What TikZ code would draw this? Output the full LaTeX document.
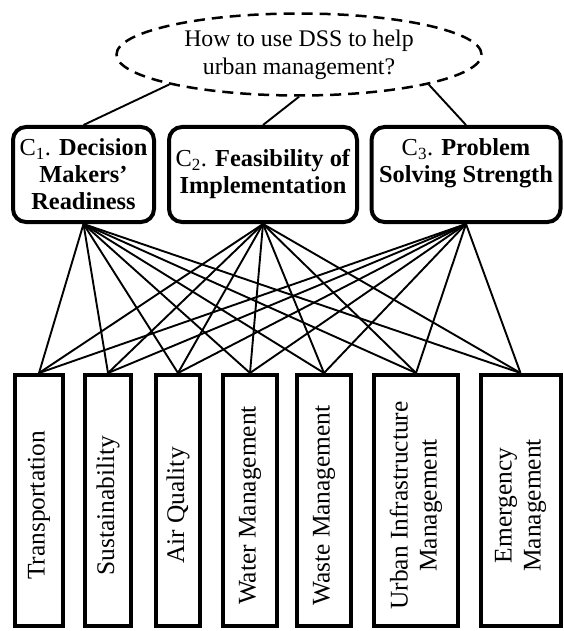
\documentclass[tikz,border=0pt]{standalone}
\usepackage{fontspec}
\setmainfont{Liberation Serif}
\usetikzlibrary{shapes.geometric}
\begin{document}
\begin{tikzpicture}[x=1pt,y=-1pt,
  question/.style={ellipse, draw, dash pattern=on 11pt off 7pt, line width=2.5pt,
    minimum width=365pt, minimum height=82pt, inner sep=0pt, align=center,
    font=\fontsize{23.8}{28}\selectfont},
  topbox/.style={draw, line width=4pt, rounded corners=13pt, inner sep=0pt,
    minimum height=95pt, align=center, font=\fontsize{24.4}{27}\selectfont},
  botbox/.style={draw, line width=4pt, inner sep=0pt, minimum height=251pt},
  bottext/.style={rotate=90, align=center, inner sep=0pt,
    font=\fontsize{25.4}{29}\selectfont},
  link/.style={line width=1.9pt},
]
\useasboundingbox (0,0) rectangle (564,631);

\node[question] (q) at (299,54.5) {How to use DSS to help\\urban management?};

\node[topbox, minimum width=141pt] (c1) at (83.5,174.5)
  {C\textsubscript{1}. \textbf{Decision}\\\textbf{Makers'}\\\textbf{Readiness}};
\node[topbox, minimum width=188pt] (c2) at (263,174.5)
  {C\textsubscript{2}. \textbf{Feasibility of}\\\textbf{Implementation}};
\node[topbox, minimum width=189pt] (c3) at (466,174.5)
  {C\textsubscript{3}. \textbf{Problem}\\\textbf{Solving Strength}\\\mbox{}};

\node[botbox, minimum width=48pt] (t)  at (39,500.5)  {};
\node[botbox, minimum width=46pt] (s)  at (108,500.5) {};
\node[botbox, minimum width=44pt] (a)  at (178,500.5) {};
\node[botbox, minimum width=54pt] (w)  at (250,500.5) {};
\node[botbox, minimum width=54pt] (wa) at (324,500.5) {};
\node[botbox, minimum width=84pt] (u)  at (416,500.5) {};
\node[botbox, minimum width=80pt] (e)  at (520.5,500.5) {};

\node[bottext] (tl)  at ([yshift=-5pt]t.center)  {Transportation};
\node[bottext] (sl)  at ([yshift=-5pt]s.center)  {Sustainability};
\node[bottext] (al)  at ([yshift=-5pt]a.center)  {Air Quality};
\node[bottext] (wl)  at ([yshift=-5pt]w.center)  {Water Management};
\node[bottext] (wal) at ([yshift=-5pt]wa.center) {Waste Management};
\node[bottext] (ul)  at ([yshift=-5pt]u.center)  {Urban Infrastructure\\Management};
\node[bottext] (el)  at ([yshift=-5pt]e.center)  {Emergency\\Management};

\draw[link] (q.193) -- (c1.north);
\draw[link] (q.south) -- (c2.north);
\draw[link] (q.347) -- (c3.north);

\foreach \c in {c1,c2,c3}
  \foreach \b in {t,s,a,w,wa,u,e}
    \draw[link] (\c.south) -- (\b.north);
\end{tikzpicture}
\end{document}
